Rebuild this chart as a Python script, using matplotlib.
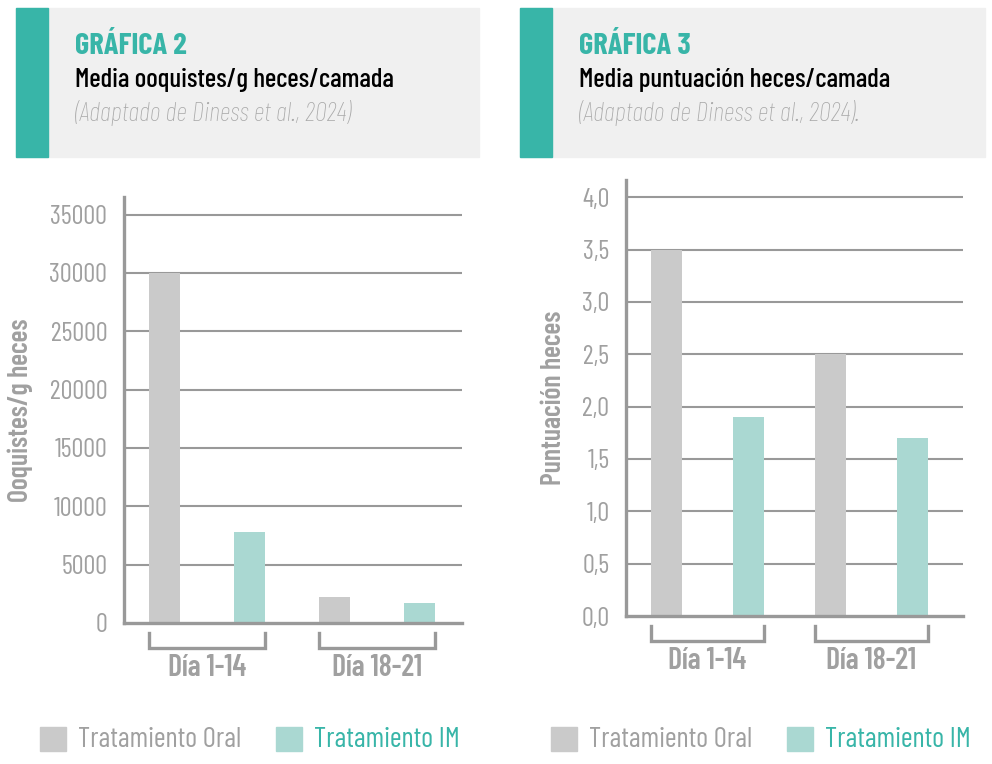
"""Graficas 2 y 3: ooquistes y puntuacion de heces por camada."""

import matplotlib
matplotlib.use("Agg")
import matplotlib.pyplot as plt
from matplotlib import font_manager
from matplotlib.patches import Rectangle
from matplotlib.transforms import blended_transform_factory

# Datos
grupos = ["Día 1-14", "Día 18-21"]
series = ["Tratamiento Oral", "Tratamiento IM"]
ooquistes_oral = [30000, 2200]
ooquistes_im = [7800, 1700]
puntuacion_oral = [3.5, 2.5]
puntuacion_im = [1.9, 1.7]

# Colores
TEAL = "#38b5a8"
ORAL = "#cacaca"
IM = "#aad8d2"
GRIS_TXT = "#a0a0a0"
GRIS_EJE = "#999999"
FONDO_CAB = "#f0f0f0"

W, H = 992, 764

disponibles = {f.name for f in font_manager.fontManager.ttflist}
FAMILIA = next((f for f in ["Barlow Condensed", "Roboto Condensed",
                            "Liberation Sans Narrow", "Roboto"]
                if f in disponibles), "DejaVu Sans")
plt.rcParams["font.family"] = [FAMILIA, "DejaVu Sans"]


def fx(px):
    return px / W


def fy(py):
    return 1 - py / H


def cabecera(fig, x0, x1, num, titulo, fuente):
    fig.patches.append(Rectangle((fx(x0), fy(157)), fx(x1 - x0), 149 / H,
                                 transform=fig.transFigure, color=FONDO_CAB,
                                 zorder=0))
    fig.patches.append(Rectangle((fx(x0), fy(157)), fx(32), 149 / H,
                                 transform=fig.transFigure, color=TEAL,
                                 zorder=1))
    tx = fx(x0 + 59)
    fig.text(tx, fy(46), num, color=TEAL, fontsize=22, fontweight="bold",
             va="center")
    fig.text(tx, fy(80), titulo, color="black", fontsize=19.5,
             fontweight="medium", va="center")
    fig.text(tx, fy(113), fuente, color="#a8a8a8", fontsize=19.5,
             style="italic", fontweight="light", va="center")


def grafica(fig, rect, oral, im, ymax, paso, fmt, ylabel, xlim, lab_x):
    x0, x1, ytop, ybot = rect
    ax = fig.add_axes([fx(x0), fy(ybot), fx(x1 - x0), (ybot - ytop) / H])
    alto = ybot - ytop
    pos_oral = [2 * i for i in range(len(grupos))]
    pos_im = [2 * i + 1 for i in range(len(grupos))]
    ancho = 0.37
    ax.bar(pos_oral, oral, width=ancho, color=ORAL, zorder=3)
    ax.bar(pos_im, im, width=ancho, color=IM, zorder=3)

    ax.set_xlim(*xlim)
    ax.set_ylim(0, ymax)
    ticks = [paso * k for k in range(int(round(ymax // paso)) + 1)]
    ax.set_yticks(ticks)
    ax.set_yticklabels([fmt(t) for t in ticks])
    ax.set_xticks([])
    for t in ticks[1:]:
        ax.axhline(t, color=GRIS_EJE, lw=1.5, zorder=1)

    for s in ["top", "right"]:
        ax.spines[s].set_visible(False)
    for s in ["left", "bottom"]:
        ax.spines[s].set_color(GRIS_EJE)
        ax.spines[s].set_linewidth(2.4)
        ax.spines[s].set_zorder(4)
    ax.tick_params(axis="y", length=0, pad=12, labelsize=19,
                   labelcolor=GRIS_TXT)
    ax.set_ylabel(ylabel, fontsize=20, fontweight="semibold", color=GRIS_TXT)
    ax.yaxis.set_label_coords(lab_x, 0.5)

    tr = blended_transform_factory(ax.transData, ax.transAxes)
    y_a, y_b = -10 / alto, -25 / alto
    for i, g in enumerate(grupos):
        xa = pos_oral[i] - ancho / 2
        xb = pos_im[i] + ancho / 2
        ax.plot([xa, xa, xb, xb], [y_a, y_b, y_b, y_a], color=GRIS_EJE,
                lw=2.4, transform=tr, clip_on=False, solid_joinstyle="miter")
        ax.text((xa + xb) / 2, -45 / alto, g, transform=tr, ha="center",
                va="center", fontsize=21.5, fontweight="semibold",
                color=GRIS_TXT)
    return ax


def leyenda(fig, x0):
    offs = [(0, ORAL, GRIS_TXT), (236, IM, TEAL)]
    for (dx, col, tcol), nombre in zip(offs, series):
        fig.patches.append(Rectangle((fx(x0 + dx), fy(751)), fx(26), 24 / H,
                                     transform=fig.transFigure, color=col))
        fig.text(fx(x0 + dx + 38), fy(740), nombre, color=tcol, fontsize=20.5,
                 va="center")


fig = plt.figure(figsize=(W / 100, H / 100), dpi=100)
fig.patch.set_facecolor("white")

cabecera(fig, 16, 479, "GRÁFICA 2", "Media ooquistes/g heces/camada",
         "(Adaptado de Diness et al., 2024)")
cabecera(fig, 520, 985, "GRÁFICA 3", "Media puntuación heces/camada",
         "(Adaptado de Diness et al., 2024).")

grafica(fig, (124, 462, 197, 623), ooquistes_oral, ooquistes_im, 36500,
        5000, lambda v: f"{v:.0f}", "Ooquistes/g heces", (-0.476, 3.5),
        -0.27)
grafica(fig, (626, 963, 180, 616), puntuacion_oral, puntuacion_im, 4.165,
        0.5, lambda v: f"{v:.1f}".replace(".", ","), "Puntuación heces",
        (-0.494, 3.616), -0.178)

leyenda(fig, 40)
leyenda(fig, 551)

fig.savefig("out.png", dpi=100, facecolor="white")
plt.close(fig)
